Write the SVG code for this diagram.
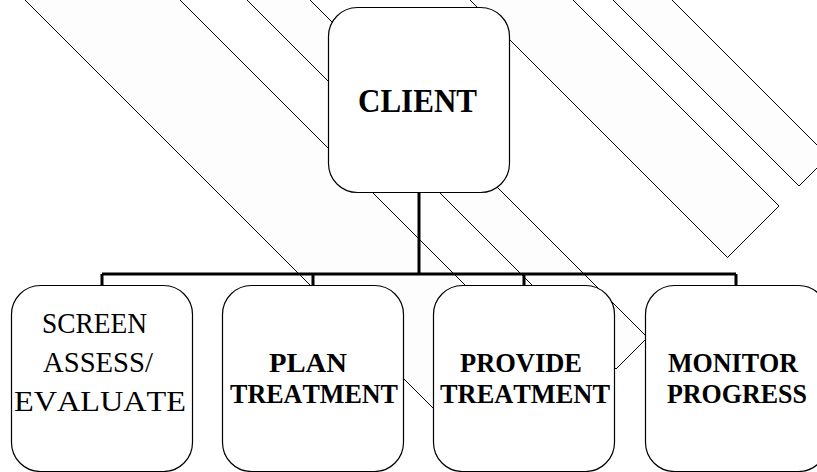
<svg xmlns="http://www.w3.org/2000/svg" width="817" height="472" viewBox="0 0 817 472">
<style>
.stripe{fill:#fdfdfd;stroke:#000;stroke-width:1}
.box{fill:#fff;stroke:#000;stroke-width:1.2}
.conn{fill:none;stroke:#000;stroke-width:3}
text{font-family:'Liberation Serif','Times New Roman',serif;fill:#000;text-anchor:middle;font-kerning:none}
.b{font-weight:bold;font-size:27.5px}
.r{font-weight:normal;font-size:29.5px}
</style>
<rect width="817" height="472" fill="#fff"/>
<g id="background-stripes">
<polygon class="stripe" points="-37.5,-62.5 40,-140 582.5,402.5 505,480"/>
<polygon class="stripe" points="73.5,-173.5 105,-205 647.5,337.5 616,369"/>
<polygon class="stripe" points="185,-285 236.5,-336.5 779,206 727.5,257.5"/>
<polygon class="stripe" points="256.5,-356.5 286,-386 828.5,156.5 799,186"/>
</g>
<g id="connectors">
<path class="conn" d="M419,193 V274 M102,274 H736 M102,274 V285 M313,274 V285 M524,274 V285 M736,274 V285"/>
</g>
<g id="client">
<rect class="box" x="328.5" y="7.5" width="181" height="185" rx="29"/>
<text class="b" x="417.5" y="112" style="font-size:33px" textLength="119" lengthAdjust="spacingAndGlyphs">CLIENT</text>
</g>
<g id="screen">
<rect class="box" x="11.5" y="285.5" width="181" height="186" rx="29"/>
<text class="r" x="94.5" y="333" textLength="105" lengthAdjust="spacingAndGlyphs">SCREEN</text>
<text class="r" x="98" y="372" textLength="110" lengthAdjust="spacingAndGlyphs">ASSESS/</text>
<text class="r" x="100" y="411" textLength="172" lengthAdjust="spacingAndGlyphs">EVALUATE</text>
</g>
<g id="plan">
<rect class="box" x="222.5" y="285.5" width="181" height="186" rx="29"/>
<text class="b" x="308" y="372" textLength="78" lengthAdjust="spacingAndGlyphs">PLAN</text>
<text class="b" x="314" y="403" textLength="168" lengthAdjust="spacingAndGlyphs">TREATMENT</text>
</g>
<g id="provide">
<rect class="box" x="433.5" y="285.5" width="181" height="186" rx="29"/>
<text class="b" x="521" y="372" textLength="122" lengthAdjust="spacingAndGlyphs">PROVIDE</text>
<text class="b" x="525" y="403" textLength="170" lengthAdjust="spacingAndGlyphs">TREATMENT</text>
</g>
<g id="monitor">
<rect class="box" x="645.5" y="285.5" width="182" height="186" rx="29"/>
<text class="b" x="733" y="372" textLength="130" lengthAdjust="spacingAndGlyphs">MONITOR</text>
<text class="b" x="737" y="403" textLength="140" lengthAdjust="spacingAndGlyphs">PROGRESS</text>
</g>
</svg>
